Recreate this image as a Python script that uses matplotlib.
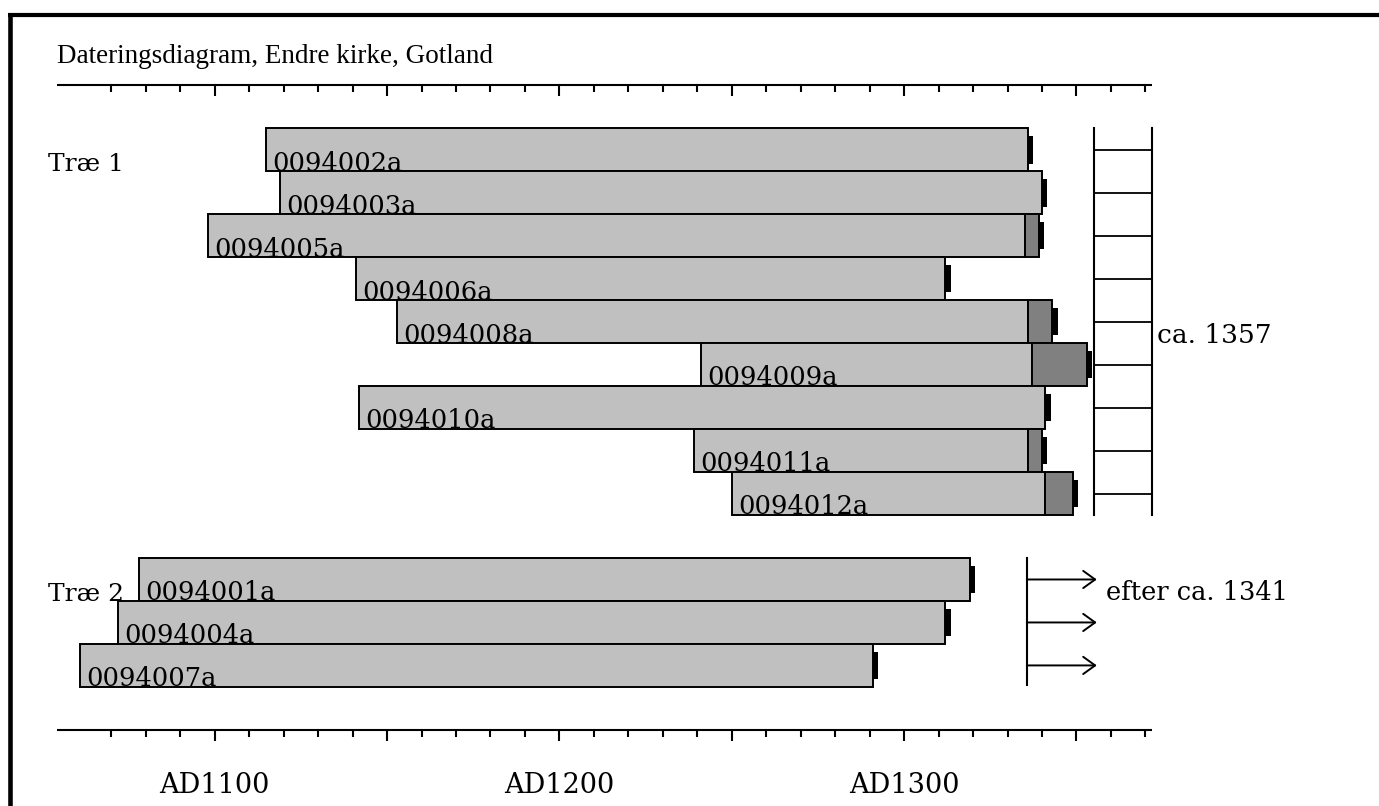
import matplotlib
matplotlib.use('Agg')
import matplotlib.pyplot as plt
from matplotlib.patches import Rectangle
from matplotlib.lines import Line2D

# ---------------- data ----------------
title = "Dateringsdiagram, Endre kirke, Gotland"
samples = ['0094002a', '0094003a', '0094005a', '0094006a', '0094008a',
           '0094009a', '0094010a', '0094011a', '0094012a',
           '0094001a', '0094004a', '0094007a']
tree = [1, 1, 1, 1, 1, 1, 1, 1, 1, 2, 2, 2]
start_year = [1115, 1119, 1098, 1141, 1153, 1241, 1142, 1239, 1250, 1078, 1072, 1061]
heartwood_end = [1336, 1340, 1335, 1312, 1336, 1337, 1341, 1336, 1341, 1319, 1312, 1291]
sapwood_end = [None, None, 1339, None, 1343, 1353, None, 1340, 1349, None, None, None]
tree_labels = ['Træ 1', 'Træ 2']
dating_labels = ['ca. 1357', 'efter ca. 1341']
tick_years = list(range(1070, 1371, 10))
axis_label_years = [1100, 1200, 1300]
axis_labels = ['AD1100', 'AD1200', 'AD1300']

# ---------------- layout ----------------
W, H = 1379, 806
PX_PER_YEAR = 3.447
X0 = 1037.71            # year at left edge of figure
ROW_PX = 42.97
ROW0_PX = 128.3         # pixel y of top of first row

fig = plt.figure(figsize=(W / 100, H / 100), dpi=100)
ax = fig.add_axes([0, 0, 1, 1])
ax.set_xlim(X0, X0 + W / PX_PER_YEAR)
ax.set_ylim((H - ROW0_PX) / ROW_PX, -ROW0_PX / ROW_PX)
ax.axis('off')

LIGHT = '#c0c0c0'
DARK = '#808080'
SERIF = ['DejaVu Serif']
TSERIF = ['Liberation Serif', 'DejaVu Serif']

# rows: trees separated by one empty row
rows = []
r = 0
prev = tree[0]
for t in tree:
    if t != prev:
        r += 1
        prev = t
    rows.append(r)
    r += 1

mark_w = 1.5
for name, r, s, he, se in zip(samples, rows, start_year, heartwood_end, sapwood_end):
    ax.add_patch(Rectangle((s, r), he - s, 1, facecolor=LIGHT, edgecolor='black',
                           linewidth=1.4, zorder=2))
    end = he
    if se is not None:
        ax.add_patch(Rectangle((he, r), se - he, 1, facecolor=DARK, edgecolor='black',
                               linewidth=1.4, zorder=2))
        end = se
    ax.add_patch(Rectangle((end, r + 0.18), mark_w, 0.64, facecolor='black',
                           edgecolor='none', zorder=3))
    ax.annotate(name, xy=(s, r + 0.985), xytext=(4.5, 0), textcoords='offset points',
                ha='left', va='baseline', fontsize=18.5, family=SERIF,
                color='black', zorder=4)

# axes (top and bottom)
ax_start, ax_end = 1054.2, 1371.8
for y in (-1.0, 14.0):
    ax.plot([ax_start, ax_end], [y, y], color='black', lw=1.5, solid_capstyle='butt', zorder=1)
    for ty in tick_years:
        L = 0.25 if ty % 50 == 0 else 0.16
        ax.plot([ty, ty], [y, y + L], color='black', lw=1.5, solid_capstyle='butt', zorder=1)

for yr, lab in zip(axis_label_years, axis_labels):
    ax.text(yr, 15.46, lab, ha='center', va='baseline', fontsize=19.5, family=SERIF)

# title
ax.text(1054.2, -1.52, title, ha='left', va='baseline', fontsize=19.5, family=TSERIF)

# tree labels
tree_rows = {}
for t, r in zip(tree, rows):
    tree_rows.setdefault(t, []).append(r)
for t, lab in zip(sorted(tree_rows), tree_labels):
    ax.text(1051.6, min(tree_rows[t]) + 1.0, lab, ha='left', va='baseline',
            fontsize=18, family=SERIF, zorder=5)

# ladder for tree 1
t1 = tree_rows[1]
lx0, lx1 = 1355.0, 1372.0
ax.plot([lx0, lx0], [min(t1), max(t1) + 1], color='black', lw=1.5)
ax.plot([lx1, lx1], [min(t1), max(t1) + 1], color='black', lw=1.5)
for r in t1:
    ax.plot([lx0, lx1], [r + 0.5, r + 0.5], color='black', lw=1.3)
ax.text(1373.4, 4.99, dating_labels[0], ha='left', va='baseline', fontsize=19, family=SERIF)

# arrows for tree 2
t2 = tree_rows[2]
vx = 1335.6
ax.plot([vx, vx], [min(t2), max(t2) + 0.95], color='black', lw=1.5)
for r in t2:
    ax.annotate('', xy=(1355.9, r + 0.5), xytext=(vx, r + 0.5),
                arrowprops=dict(arrowstyle='->,head_length=0.86,head_width=0.62',
                                color='black', lw=1.4, shrinkA=0, shrinkB=0,
                                mutation_scale=10))
ax.text(1358.6, 10.98, dating_labels[1], ha='left', va='baseline', fontsize=18.5, family=SERIF)

# outer frame (top and left edges visible)
fig.add_artist(Line2D([7.5 / W, 1.0], [1 - 15.3 / H, 1 - 15.3 / H],
                      transform=fig.transFigure, color='black', lw=3.0,
                      solid_capstyle='butt'))
fig.add_artist(Line2D([9.7 / W, 9.7 / W], [1 - 13.3 / H, 0.0],
                      transform=fig.transFigure, color='black', lw=3.3,
                      solid_capstyle='butt'))

fig.savefig('out.png', dpi=100, facecolor='white')
